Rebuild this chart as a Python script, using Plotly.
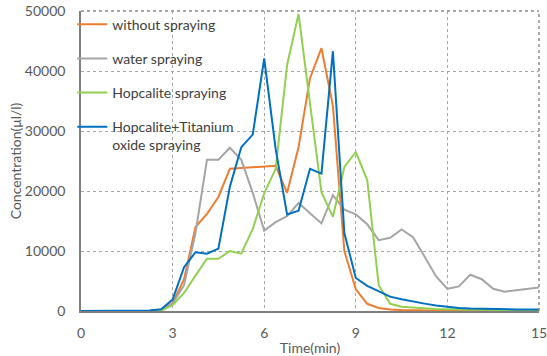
import plotly.graph_objects as go

time_min = [0, 0.375, 0.75, 1.125, 1.5, 1.875, 2.25, 2.625, 3.0, 3.375,
            3.75, 4.125, 4.5, 4.875, 5.25, 5.625, 6.0, 6.375, 6.75, 7.125,
            7.5, 7.875, 8.25, 8.625, 9.0, 9.375, 9.75, 10.125, 10.5, 10.875,
            11.25, 11.625, 12.0, 12.375, 12.75, 13.125, 13.5, 13.875, 14.25, 14.625, 15.0]

without_spraying = [0, 0, 0, 0, 0, 0, 50, 150, 1300, 5300,
                    14000, 16200, 19000, 23700, 23800, 23950, 24050, 24200, 19700, 27300,
                    38800, 43800, 34200, 10000, 3600, 1200, 500, 250, 150, 100,
                    80, 60, 50, 40, 30, 30, 20, 20, 20, 20, 20]

water_spraying = [0, 0, 0, 0, 0, 20, 60, 200, 1200, 4300,
                  13000, 25200, 25200, 27200, 25200, 19700, 13400, 14800, 15800, 18000,
                  16300, 14600, 19300, 16900, 16100, 14450, 11800, 12200, 13600, 12300,
                  9100, 5800, 3700, 4100, 6050, 5300, 3700, 3200, 3450, 3700, 3900]

hopcalite_spraying = [0, 0, 0, 0, 0, 0, 0, 50, 950, 3000,
                      5900, 8700, 8700, 10000, 9550, 13700, 19600, 23700, 41000, 49500,
                      34600, 19800, 15700, 24000, 26500, 21800, 4300, 1200, 700, 550,
                      450, 350, 300, 250, 200, 180, 150, 130, 120, 110, 100]

hopcalite_titanium = [0, 0, 0, 0, 0, 20, 80, 300, 1900, 7300,
                      9800, 9550, 10400, 20700, 27300, 29400, 42100, 27000, 16100, 16700,
                      23700, 22900, 43300, 13000, 5500, 4200, 3300, 2400, 1950, 1650,
                      1230, 900, 670, 520, 420, 350, 300, 270, 250, 240, 230]

series = [
    ("without spraying", without_spraying, "#ED7D31"),
    ("water spraying", water_spraying, "#A5A5A5"),
    ("Hopcalite spraying", hopcalite_spraying, "#92D050"),
    ("Hopcalite+Titanium<br>oxide spraying", hopcalite_titanium, "#0070C0"),
]

FONT = "Lato, 'Open Sans', sans-serif"
TXT = "#595959"

fig = go.Figure()
for i, (name, vals, col) in enumerate(series):
    fig.add_trace(go.Scatter(
        x=time_min, y=vals, mode="lines", name=name,
        line=dict(color=col, width=2), legendgroup=f"g{i}",
    ))

fig.update_layout(
    width=547, height=356, autosize=False,
    margin=dict(l=81, r=8, t=11, b=45, autoexpand=False),
    paper_bgcolor="white", plot_bgcolor="white",
    font=dict(family=FONT, size=14, color=TXT),
    showlegend=True,
    legend=dict(
        x=-0.019, y=1.008, xanchor="left", yanchor="top",
        bgcolor="rgba(0,0,0,0)", borderwidth=0,
        traceorder="grouped", tracegroupgap=13, valign="top",
        font=dict(family=FONT, size=14, color="#404040"),
    ),
    xaxis=dict(
        range=[0, 15], dtick=3, tick0=0, automargin=True,
        showgrid=True, gridcolor="#A6A6A6", griddash="dot", gridwidth=1,
        showline=True, linecolor="#7F7F7F", linewidth=1.5,
        zeroline=False, ticks="", ticklabelstandoff=8, ticklabeloverflow="allow",
        layer="below traces",
        title=dict(text="Time(min)", standoff=4, font=dict(size=14, color=TXT)),
    ),
    yaxis=dict(
        range=[0, 50000], dtick=10000, tick0=0, tickformat="d", automargin=True,
        showgrid=True, gridcolor="#A6A6A6", griddash="dot", gridwidth=1,
        showline=True, linecolor="#7F7F7F", linewidth=1.5,
        zeroline=False, ticks="", ticklabelstandoff=11, ticklabeloverflow="allow",
        layer="below traces",
        title=dict(text="Concentration(μl/l)", standoff=0, font=dict(size=14, color=TXT)),
    ),
    shapes=[
        dict(type="line", xref="paper", yref="paper", x0=0, x1=1, y0=1, y1=1,
             line=dict(color="#8C8C8C", width=1.5, dash="dot")),
        dict(type="line", xref="paper", yref="paper", x0=1, x1=1, y0=0, y1=1,
             line=dict(color="#8C8C8C", width=1.5, dash="dot")),
    ],
)

fig.write_html("out.html")
